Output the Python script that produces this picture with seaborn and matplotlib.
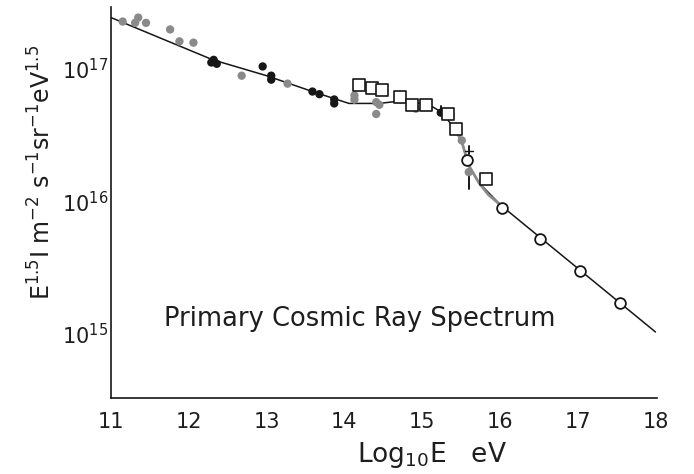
import numpy as np
import pandas as pd
import matplotlib
matplotlib.use("Agg")
import matplotlib.pyplot as plt
import seaborn as sns

sns.set_theme(style="white")
plt.rcParams['font.family'] = ['DejaVu Sans']
plt.rcParams['mathtext.fontset'] = 'dejavusans'

# ---- data (log10 E in eV, log10 of E^1.5 I) ----
line_logE = [11.0, 12.31, 13.0, 13.59, 14.06, 14.45, 14.74, 15.09, 15.26, 15.44, 15.51, 15.60, 15.73, 16.01, 18.0]
line_logF = [17.39, 17.07, 16.95, 16.83, 16.74, 16.74, 16.76, 16.73, 16.67, 16.53, 16.45, 16.27, 16.14, 15.97, 15.01]

knee_logE = [15.44, 15.51, 15.60, 15.73, 15.85, 16.01]
knee_logF = [16.53, 16.45, 16.27, 16.14, 16.05, 15.97]

gray_logE = [11.15, 11.31, 11.35, 11.45, 11.76, 11.88, 12.06, 12.68, 13.27,
             14.13, 14.13, 14.41, 14.45, 14.41, 14.73, 14.92, 15.51, 15.60]
gray_logF = [17.36, 17.35, 17.39, 17.35, 17.30, 17.21, 17.20, 16.95, 16.89,
             16.80, 16.77, 16.75, 16.73, 16.66, 16.77, 16.70, 16.46, 16.22]

black_logE = [12.29, 12.36, 12.32, 12.95, 13.06, 13.06, 13.59, 13.68, 13.87, 13.87, 15.24]
black_logF = [17.05, 17.04, 17.07, 17.02, 16.95, 16.92, 16.83, 16.81, 16.77, 16.74, 16.67]

square_logE = [14.19, 14.35, 14.49, 14.71, 14.87, 15.05, 15.33, 15.44, 15.82]
square_logF = [16.88, 16.86, 16.84, 16.79, 16.73, 16.73, 16.66, 16.55, 16.17]

circle_logE = [15.58, 16.03, 16.51, 17.03, 17.54]
circle_logF = [16.31, 15.95, 15.71, 15.47, 15.23]

# error bars
err_logE = [14.13, 15.24, 15.60, 15.60]
err_lo = [16.74, 16.67, 16.09, 16.36]
err_hi = [16.84, 16.72, 16.22, 16.42]

x_ticks = [11, 12, 13, 14, 15, 16, 17, 18]
y_ticks_exp = [15, 16, 17]

def df(x, y):
    return pd.DataFrame({"logE": x, "F": np.power(10.0, np.array(y))})

fig = plt.figure(figsize=(6.94, 4.74), dpi=100)
ax = fig.add_axes([111/694, 1-398/474, (657-111)/694, (398-7)/474])
ax.set_yscale('log')

ink = '#161616'
gray = '#8a8a8a'
txt = '#1e1e1e'

sns.lineplot(data=df(line_logE, line_logF), x="logE", y="F", sort=False,
             color=ink, lw=1.1, ax=ax, zorder=2)
sns.lineplot(data=df(knee_logE, knee_logF), x="logE", y="F", sort=False,
             color=gray, lw=2.0, ax=ax, zorder=3)

for xe, lo, hi, c in zip(err_logE, err_lo, err_hi, [gray, ink, ink, ink]):
    ax.plot([xe, xe], [10**lo, 10**hi], color=c, lw=1.4, zorder=3)
ax.plot([15.55, 15.65], [10**16.38, 10**16.38], color=ink, lw=1.0, zorder=3)

sns.scatterplot(data=df(gray_logE, gray_logF), x="logE", y="F", color=gray,
                s=36, edgecolor='none', ax=ax, zorder=4)
sns.scatterplot(data=df(black_logE, black_logF), x="logE", y="F", color=ink,
                s=36, edgecolor='none', ax=ax, zorder=4)
sns.scatterplot(data=df(square_logE, square_logF), x="logE", y="F", marker='s',
                facecolor='white', edgecolor=ink, linewidth=1.2, s=85, ax=ax, zorder=5)
sns.scatterplot(data=df(circle_logE, circle_logF), x="logE", y="F", marker='o',
                facecolor='white', edgecolor=ink, linewidth=1.3, s=60, ax=ax, zorder=5)

ax.set_xlim(11, 18.02)
ax.set_ylim(10**14.51, 10**17.47)
ax.set_xticks(x_ticks)
ax.set_xticklabels([str(t) for t in x_ticks])
ax.set_yticks([10.0**e for e in y_ticks_exp])
ax.set_yticklabels([r'$10^{%d}$' % e for e in y_ticks_exp])
ax.yaxis.set_minor_locator(matplotlib.ticker.NullLocator())
ax.tick_params(axis='both', direction='in', length=6, width=1.0, color=ink,
               labelsize=15, labelcolor=txt)
ax.tick_params(axis='x', pad=10)
ax.tick_params(axis='y', pad=2)

for s in ['top', 'right']:
    ax.spines[s].set_visible(False)
for s in ['left', 'bottom']:
    ax.spines[s].set_color(ink)
    ax.spines[s].set_linewidth(1.2)

ax.set_xlabel(r'Log$_{10}$E   eV', fontsize=19, color=txt)
ax.set_ylabel(r'E$^{1.5}$I m$^{-2}$ s$^{-1}$sr$^{-1}$eV$^{1.5}$', fontsize=17, color=txt)
ax.xaxis.label.set_va('center')
ax.yaxis.label.set_va('center')
ax.xaxis.set_label_coords(0.588, -0.146)
ax.yaxis.set_label_coords(-0.126, 0.578)

ax.text(14.2, 10**15.11, 'Primary Cosmic Ray Spectrum', ha='center', va='center',
        fontsize=18.5, color=txt)

fig.savefig('out.png', dpi=100)
